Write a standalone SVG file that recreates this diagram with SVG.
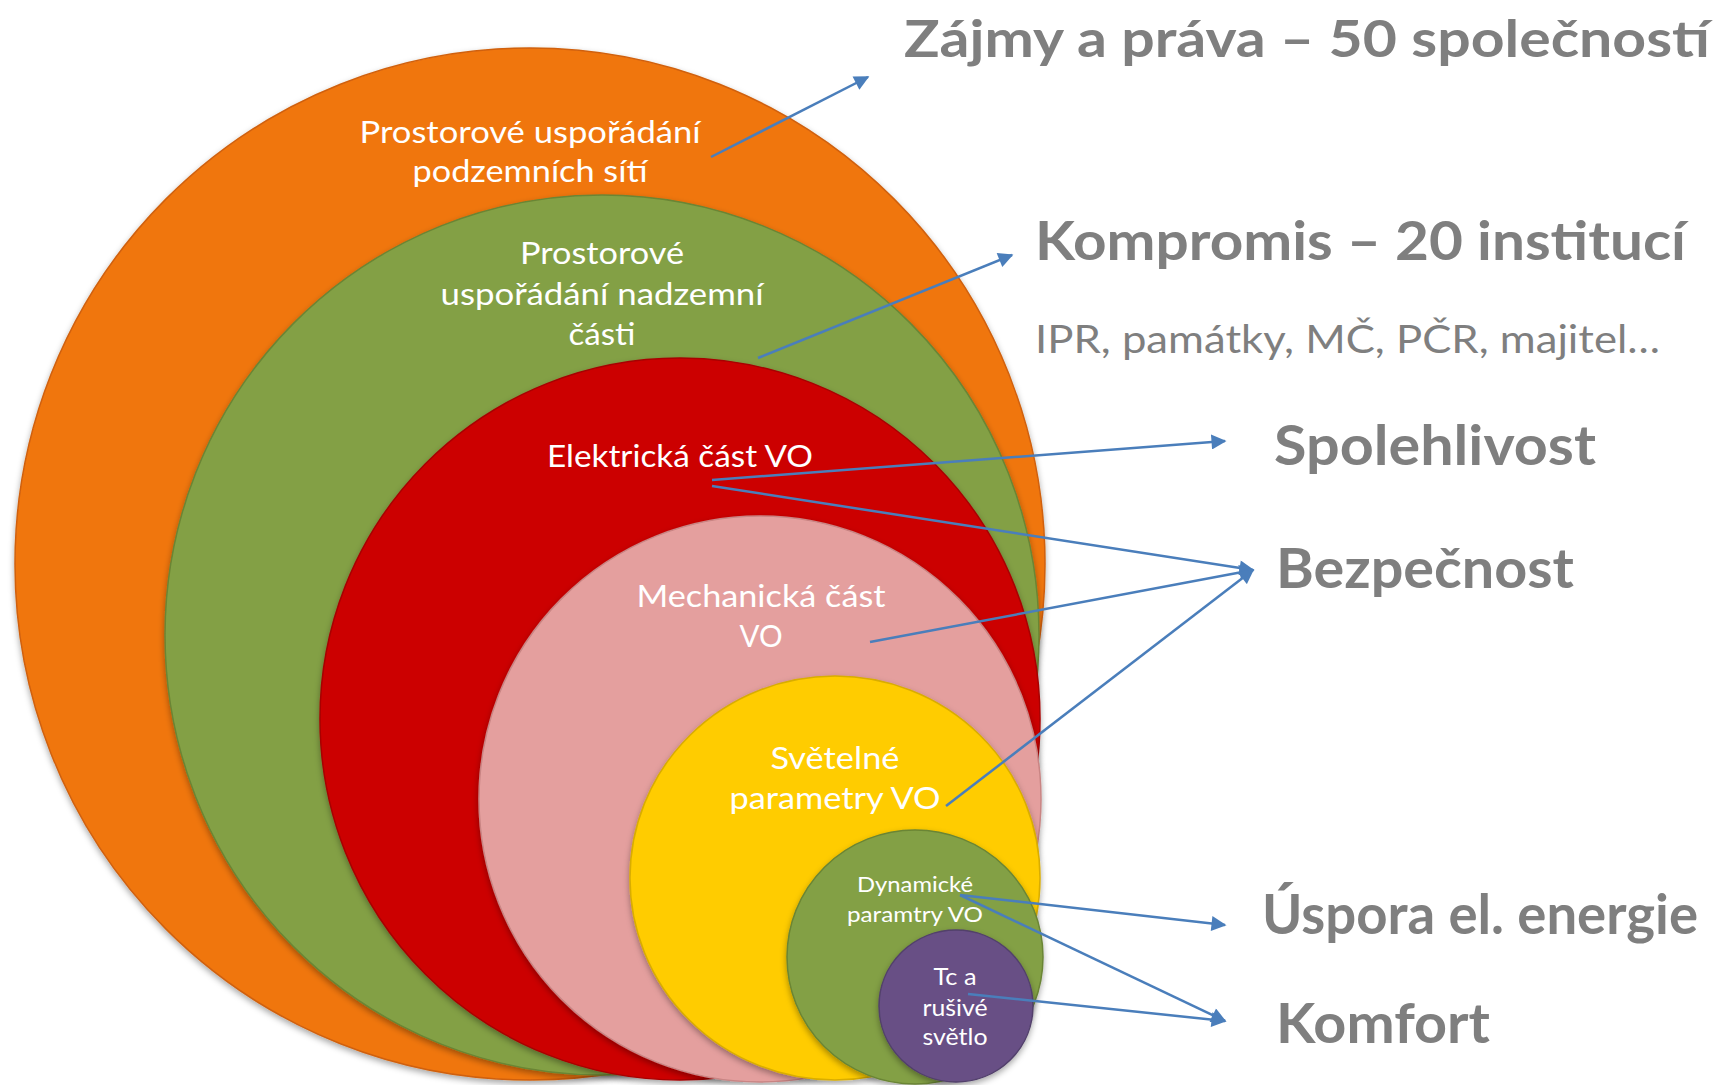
<svg xmlns="http://www.w3.org/2000/svg" width="1721" height="1085" viewBox="0 0 1721 1085">
<style>
.in{font-family:Lato,"Open Sans","Liberation Sans",sans-serif;fill:#fff;text-anchor:middle}
.t{font-family:Lato,"Open Sans","Liberation Sans",sans-serif;fill:#7f7f7f;font-weight:bold}
.s{font-family:Lato,"Open Sans","Liberation Sans",sans-serif;fill:#7f7f7f}
.ar{stroke:#4a7ebb;stroke-width:2.5;fill:none;marker-end:url(#ah)}
.el{filter:url(#sh)}
</style>
<defs>
<marker id="ah" viewBox="0 0 10 10" refX="9" refY="5" markerWidth="7" markerHeight="6" markerUnits="strokeWidth" orient="auto">
<path d="M0,0 L10,5 L0,10 z" fill="#4a7ebb"/>
</marker>
<filter id="sh" x="-10%" y="-10%" width="120%" height="120%">
<feDropShadow dx="0" dy="3" stdDeviation="3" flood-color="#000" flood-opacity="0.35"/>
</filter>
</defs>
<g id="n-orange"><ellipse class="el" cx="530" cy="564" rx="515" ry="516" fill="#f07611" stroke="#d0600a" stroke-width="1.5"/>
<text class="in" font-size="30"><tspan x="530" y="143" textLength="341" lengthAdjust="spacingAndGlyphs">Prostorové uspořádání</tspan><tspan x="530" y="182" textLength="235" lengthAdjust="spacingAndGlyphs">podzemních sítí</tspan></text></g>
<g id="n-green"><ellipse class="el" cx="602" cy="635" rx="437" ry="440" fill="#83a044" stroke="#6a8535" stroke-width="1.5"/>
<text class="in" font-size="30"><tspan x="602" y="264" textLength="164" lengthAdjust="spacingAndGlyphs">Prostorové</tspan><tspan x="602" y="305" textLength="323" lengthAdjust="spacingAndGlyphs">uspořádání nadzemní</tspan><tspan x="602" y="345" textLength="67" lengthAdjust="spacingAndGlyphs">části</tspan></text></g>
<g id="n-red"><ellipse class="el" cx="680" cy="719" rx="360" ry="361" fill="#cc0606" stroke="#a80404" stroke-width="1.5"/>
<text class="in" font-size="30" x="680" y="467" textLength="266" lengthAdjust="spacingAndGlyphs">Elektrická část VO</text></g>
<g id="n-pink"><ellipse class="el" cx="760" cy="799" rx="281" ry="283" fill="#e49f9e" stroke="#c98584" stroke-width="1.5"/>
<text class="in" font-size="31"><tspan x="761" y="607" textLength="249" lengthAdjust="spacingAndGlyphs">Mechanická část</tspan><tspan x="761" y="647" textLength="43" lengthAdjust="spacingAndGlyphs">VO</tspan></text></g>
<g id="n-yellow"><ellipse class="el" cx="835" cy="878" rx="205" ry="202" fill="#ffcc00" stroke="#d9ad00" stroke-width="1.5"/>
<text class="in" font-size="31"><tspan x="835" y="769" textLength="129" lengthAdjust="spacingAndGlyphs">Světelné</tspan><tspan x="835" y="809" textLength="211" lengthAdjust="spacingAndGlyphs">parametry VO</tspan></text></g>
<g id="n-dyn"><ellipse class="el" cx="915" cy="957" rx="128" ry="127" fill="#83a044" stroke="#6a8535" stroke-width="1.5"/>
<text class="in" font-size="22"><tspan x="915" y="892" textLength="116" lengthAdjust="spacingAndGlyphs">Dynamické</tspan><tspan x="915" y="922" textLength="136" lengthAdjust="spacingAndGlyphs">paramtry VO</tspan></text></g>
<g id="n-purple"><ellipse class="el" cx="956" cy="1006" rx="77" ry="76" fill="#674f85" stroke="#52406b" stroke-width="1.5"/>
<text class="in" font-size="23"><tspan x="955" y="985" textLength="43" lengthAdjust="spacingAndGlyphs">Tc a</tspan><tspan x="955" y="1016" textLength="65" lengthAdjust="spacingAndGlyphs">rušivé</tspan><tspan x="955" y="1045" textLength="65" lengthAdjust="spacingAndGlyphs">světlo</tspan></text></g>
<g id="connectors">
<line class="ar" x1="711" y1="157" x2="868" y2="77"/>
<line class="ar" x1="758" y1="358" x2="1012" y2="255"/>
<line class="ar" x1="712" y1="480" x2="1225" y2="441"/>
<line class="ar" x1="712" y1="486" x2="1253" y2="570"/>
<line class="ar" x1="870" y1="642" x2="1253" y2="570"/>
<line class="ar" x1="946" y1="806" x2="1253" y2="570"/>
<line class="ar" x1="960" y1="895" x2="1225" y2="925"/>
<line class="ar" x1="960" y1="895" x2="1225" y2="1021"/>
<line class="ar" x1="968" y1="994" x2="1225" y2="1021"/>
</g>
<g id="labels">
<text class="t" font-size="52" x="904" y="57" textLength="806" lengthAdjust="spacingAndGlyphs">Zájmy a práva – 50 společností</text>
<text class="t" font-size="53" x="1035" y="260" textLength="651" lengthAdjust="spacingAndGlyphs">Kompromis – 20 institucí</text>
<text class="s" font-size="39" x="1035" y="353" textLength="625" lengthAdjust="spacingAndGlyphs">IPR, památky, MČ, PČR, majitel…</text>
<text class="t" font-size="55" x="1274" y="465" textLength="322" lengthAdjust="spacingAndGlyphs">Spolehlivost</text>
<text class="t" font-size="55" x="1276" y="588" textLength="298" lengthAdjust="spacingAndGlyphs">Bezpečnost</text>
<text class="t" font-size="55" x="1262" y="934" textLength="436" lengthAdjust="spacingAndGlyphs">Úspora el. energie</text>
<text class="t" font-size="55" x="1276" y="1043" textLength="214" lengthAdjust="spacingAndGlyphs">Komfort</text>
</g>
</svg>
